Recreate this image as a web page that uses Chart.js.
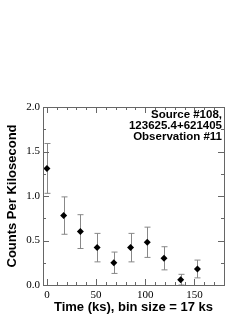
<!DOCTYPE html>
<html>
<head>
<meta charset="utf-8">
<script src="https://cdn.jsdelivr.net/npm/chart.js@4"></script>
<style>
  body { margin: 0; background: #fff; }
  canvas { display: block; }
</style>
</head>
<body>
<canvas id="myChart" width="249" height="323"></canvas>
<script>
// light curve, 17 ks bins
const times = [0, 17, 34, 51, 68, 85, 102, 119, 136, 153];
const rates = [1.31, 0.78, 0.60, 0.42, 0.25, 0.42, 0.48, 0.30, 0.06, 0.18];
const errors = [0.28, 0.21, 0.19, 0.16, 0.12, 0.16, 0.17, 0.13, 0.06, 0.10];

const xTicks = [0, 50, 100, 150];
const yTicks = [0, 0.5, 1.0, 1.5, 2.0];
const xMinor = [10, 20, 30, 40, 60, 70, 80, 90, 110, 120, 130, 140, 160, 170];
const yMinor = [0.25, 0.75, 1.25, 1.75];
const labelLines = ['Source #108,', '123625.4+621405', 'Observation #11'];

const frameColor = '#666';
const errColor = '#888';

const errorBars = {
    id: 'errorBars',
    beforeDatasetsDraw(chart) {
        const ctx = chart.ctx;
        const x = chart.scales.x, y = chart.scales.y;
        ctx.save();
        ctx.strokeStyle = errColor;
        ctx.lineWidth = 1;
        times.forEach((t, i) => {
            const px = Math.round(x.getPixelForValue(t)) + 0.5;
            const top = y.getPixelForValue(rates[i] + errors[i]);
            const bot = y.getPixelForValue(rates[i] - errors[i]);
            ctx.beginPath();
            ctx.moveTo(px, top); ctx.lineTo(px, bot);
            ctx.moveTo(px - 3, top); ctx.lineTo(px + 3, top);
            ctx.moveTo(px - 3, bot); ctx.lineTo(px + 3, bot);
            ctx.stroke();
        });
        ctx.restore();
    }
};

const frame = {
    id: 'frame',
    afterDraw(chart) {
        const ctx = chart.ctx;
        const a = chart.chartArea;
        const x = chart.scales.x, y = chart.scales.y;
        ctx.save();
        ctx.strokeStyle = frameColor;
        ctx.lineWidth = 1;
        ctx.strokeRect(Math.round(a.left) + 0.5, Math.round(a.top) + 0.5,
            Math.round(a.right - a.left), Math.round(a.bottom - a.top));
        ctx.beginPath();
        const xt = (v, len) => {
            const px = Math.round(x.getPixelForValue(v)) + 0.5;
            ctx.moveTo(px, a.bottom); ctx.lineTo(px, a.bottom - len);
            ctx.moveTo(px, a.top); ctx.lineTo(px, a.top + len);
        };
        const yt = (v, len) => {
            const py = Math.round(y.getPixelForValue(v)) + 0.5;
            ctx.moveTo(a.left, py); ctx.lineTo(a.left + len, py);
            ctx.moveTo(a.right, py); ctx.lineTo(a.right - len, py);
        };
        xTicks.forEach(v => xt(v, 6));
        xMinor.forEach(v => xt(v, 3));
        yTicks.forEach(v => yt(v, 6));
        yMinor.forEach(v => yt(v, 3));
        ctx.stroke();

        ctx.fillStyle = '#000';
        ctx.font = 'bold 11.5px "Liberation Sans", Arial, sans-serif';
        ctx.textAlign = 'right';
        ctx.textBaseline = 'middle';
        labelLines.forEach((s, i) => {
            ctx.fillText(s, a.right - 2, a.top + 8 + i * 11);
        });
        ctx.restore();
    }
};

const ctx = document.getElementById('myChart');

new Chart(ctx, {
    type: 'scatter',
    data: {
        datasets: [{
            data: times.map((t, i) => ({ x: t, y: rates[i] })),
            pointStyle: 'rectRot',
            pointRadius: 3.5,
            backgroundColor: '#000',
            borderColor: '#000',
            borderWidth: 0
        }]
    },
    options: {
        responsive: false,
        animation: false,
        layout: { padding: { top: 107, right: 25, left: 0, bottom: 0 } },
        plugins: { legend: { display: false }, tooltip: { enabled: false } },
        scales: {
            x: {
                min: -4,
                max: 180,
                afterBuildTicks: s => { s.ticks = xTicks.map(v => ({ value: v })); },
                afterFit: s => { s.height = 38; },
                grid: { display: false, drawTicks: false },
                border: { display: false },
                ticks: {
                    color: '#000',
                    padding: 4,
                    maxRotation: 0,
                    font: { family: '"Liberation Serif", "Times New Roman", serif', size: 11 }
                },
                title: {
                    display: true,
                    text: 'Time (ks), bin size = 17 ks',
                    color: '#000',
                    padding: { top: 0, bottom: 8 },
                    font: { family: '"Liberation Sans", Arial, sans-serif', size: 13, weight: 'bold' }
                }
            },
            y: {
                min: 0,
                max: 2,
                afterBuildTicks: s => { s.ticks = yTicks.map(v => ({ value: v })); },
                afterFit: s => { s.width = 43; },
                grid: { display: false, drawTicks: false },
                border: { display: false },
                ticks: {
                    color: '#000',
                    padding: 3,
                    callback: v => Number(v).toFixed(1),
                    font: { family: '"Liberation Serif", "Times New Roman", serif', size: 11 }
                },
                title: {
                    display: true,
                    text: 'Counts Per Kilosecond',
                    color: '#000',
                    padding: { top: 5, bottom: 0 },
                    font: { family: '"Liberation Sans", Arial, sans-serif', size: 13, weight: 'bold' }
                }
            }
        }
    },
    plugins: [errorBars, frame]
});
</script>
</body>
</html>
